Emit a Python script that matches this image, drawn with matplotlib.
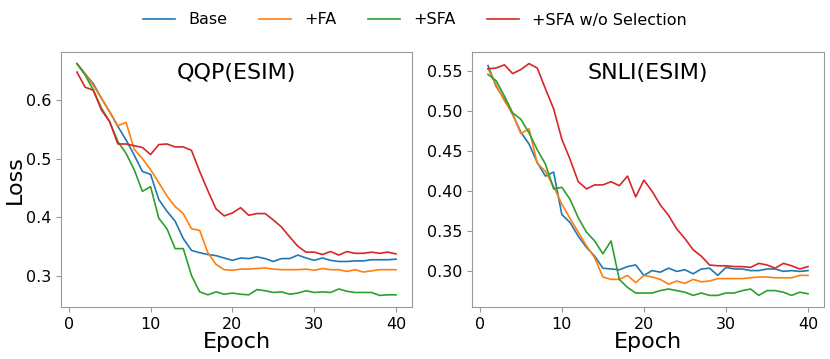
import matplotlib
matplotlib.use("Agg")
import matplotlib.pyplot as plt

epochs = list(range(1, 41))

qqp_base = [0.6625, 0.645, 0.628, 0.603, 0.58, 0.555, 0.532, 0.506, 0.478, 0.473,
            0.43, 0.41, 0.393, 0.363, 0.343, 0.339, 0.336, 0.334, 0.33, 0.326,
            0.33, 0.329, 0.332, 0.329, 0.324, 0.329, 0.329, 0.335, 0.33, 0.326,
            0.33, 0.326, 0.324, 0.324, 0.325, 0.325, 0.327, 0.327, 0.327, 0.328]
qqp_fa = [0.662, 0.645, 0.625, 0.603, 0.58, 0.556, 0.562, 0.516, 0.5, 0.481,
          0.459, 0.436, 0.418, 0.406, 0.38, 0.377, 0.339, 0.319, 0.31, 0.309,
          0.311, 0.311, 0.312, 0.313, 0.311, 0.31, 0.31, 0.31, 0.311, 0.309,
          0.312, 0.31, 0.31, 0.307, 0.31, 0.306, 0.308, 0.31, 0.31, 0.31]
qqp_sfa = [0.6625, 0.643, 0.617, 0.586, 0.563, 0.529, 0.509, 0.481, 0.444, 0.452,
           0.398, 0.38, 0.346, 0.346, 0.3, 0.272, 0.267, 0.272, 0.268, 0.27,
           0.268, 0.267, 0.276, 0.274, 0.271, 0.272, 0.268, 0.27, 0.274, 0.271,
           0.272, 0.271, 0.277, 0.273, 0.271, 0.271, 0.271, 0.266, 0.267, 0.267]
qqp_nosel = [0.648, 0.622, 0.617, 0.583, 0.563, 0.525, 0.525, 0.522, 0.519, 0.507,
             0.524, 0.525, 0.52, 0.52, 0.514, 0.478, 0.445, 0.414, 0.402, 0.407,
             0.416, 0.403, 0.406, 0.406, 0.395, 0.383, 0.366, 0.35, 0.34, 0.34,
             0.336, 0.341, 0.335, 0.341, 0.338, 0.338, 0.34, 0.338, 0.34, 0.337]

snli_base = [0.557, 0.531, 0.515, 0.496, 0.474, 0.459, 0.436, 0.419, 0.424, 0.371,
             0.361, 0.344, 0.33, 0.319, 0.304, 0.303, 0.302, 0.306, 0.308, 0.295,
             0.301, 0.299, 0.304, 0.3, 0.302, 0.297, 0.303, 0.304, 0.295, 0.305,
             0.303, 0.303, 0.301, 0.301, 0.303, 0.303, 0.3, 0.301, 0.3, 0.301]
snli_fa = [0.553, 0.533, 0.513, 0.497, 0.472, 0.478, 0.435, 0.425, 0.406, 0.384,
           0.366, 0.349, 0.332, 0.317, 0.293, 0.29, 0.29, 0.295, 0.286, 0.295,
           0.293, 0.29, 0.284, 0.288, 0.285, 0.29, 0.287, 0.288, 0.291, 0.291,
           0.291, 0.291, 0.292, 0.293, 0.293, 0.292, 0.292, 0.292, 0.295, 0.295]
snli_sfa = [0.546, 0.538, 0.519, 0.498, 0.49, 0.473, 0.452, 0.434, 0.403, 0.405,
            0.39, 0.367, 0.349, 0.338, 0.322, 0.338, 0.29, 0.28, 0.273, 0.273,
            0.273, 0.276, 0.278, 0.276, 0.274, 0.27, 0.273, 0.27, 0.27, 0.273,
            0.273, 0.276, 0.278, 0.27, 0.276, 0.276, 0.274, 0.27, 0.274, 0.272]
snli_nosel = [0.553, 0.554, 0.558, 0.547, 0.552, 0.5595, 0.554, 0.528, 0.503, 0.465,
              0.44, 0.412, 0.403, 0.408, 0.408, 0.412, 0.407, 0.419, 0.393, 0.414,
              0.4, 0.383, 0.37, 0.353, 0.341, 0.327, 0.319, 0.308, 0.307, 0.307,
              0.306, 0.306, 0.305, 0.31, 0.308, 0.304, 0.31, 0.307, 0.303, 0.306]

labels = ["Base", "+FA", "+SFA", "+SFA w/o Selection"]
colors = ["#1f77b4", "#ff7f0e", "#2ca02c", "#d62728"]
titles = ["QQP(ESIM)", "SNLI(ESIM)"]
x_ticks = [0, 10, 20, 30, 40]
qqp_yticks = [0.3, 0.4, 0.5, 0.6]
snli_yticks = [0.30, 0.35, 0.40, 0.45, 0.50, 0.55]

fig = plt.figure(figsize=(8.3, 3.59), dpi=100)
ax1 = fig.add_axes([61/830, 1 - 307/359, (412-61)/830, (307-52)/359])
ax2 = fig.add_axes([472/830, 1 - 307/359, (824-472)/830, (307-52)/359])

datasets = [[qqp_base, qqp_fa, qqp_sfa, qqp_nosel],
            [snli_base, snli_fa, snli_sfa, snli_nosel]]

handles = []
for ax, data, title in zip([ax1, ax2], datasets, titles):
    for series, lab, col in zip(data, labels, colors):
        h, = ax.plot(epochs, series, color=col, lw=1.2, label=lab)
        if ax is ax1:
            handles.append(h)
    ax.text(0.5, 0.955, title, transform=ax.transAxes, ha="center", va="top", fontsize=16)
    ax.set_xticks(x_ticks)
    ax.tick_params(labelsize=11.5, color="#999999")
    for sp in ax.spines.values():
        sp.set_color("#999999")
    ax.set_xlabel("Epoch", fontsize=16, labelpad=0)

ax1.set_ylabel("Loss", fontsize=16, labelpad=1)
ax1.set_yticks(qqp_yticks)
ax2.set_yticks(snli_yticks)
ax2.set_yticklabels([f"{v:.2f}" for v in snli_yticks])

fig.legend(handles=handles, labels=labels, loc="center", ncol=4, frameon=False,
           fontsize=11.5, bbox_to_anchor=(0.5, 1 - 20/359), columnspacing=2.0)

fig.savefig("out.png", dpi=100)
